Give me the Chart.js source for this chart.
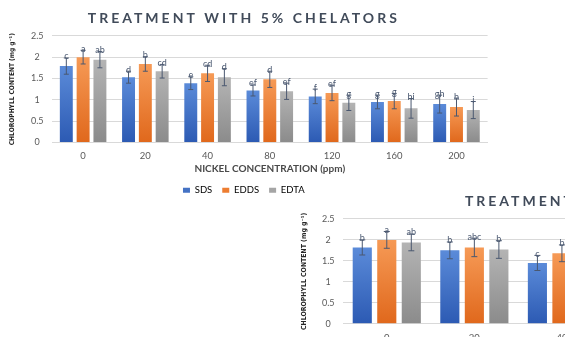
<!DOCTYPE html>
<html>
<head>
<meta charset="utf-8">
<script src="https://cdn.jsdelivr.net/npm/chart.js@4.4.1/dist/chart.umd.min.js"></script>
<style>
  html, body { margin: 0; padding: 0; background: #ffffff; width: 565px; height: 337px; overflow: hidden; position: relative; }
  #c1 { position: absolute; left: 0px; top: 0px; }
  #c2 { position: absolute; left: 285px; top: 185px; }
</style>
</head>
<body>
<canvas id="c1" width="492" height="205"></canvas>
<canvas id="c2" width="676" height="215"></canvas>
<script>
// ---------- data ----------
const categories = ['0', '20', '40', '80', '120', '160', '200'];
const seriesNames = ['SDS', 'EDDS', 'EDTA'];
const yTicks = [0, 0.5, 1, 1.5, 2, 2.5];

// Chart 1: treatment with 5% chelators
const sds5  = [1.79, 1.53, 1.39, 1.22, 1.08, 0.95, 0.90];
const edds5 = [2.00, 1.84, 1.62, 1.48, 1.16, 0.97, 0.83];
const edta5 = [1.94, 1.67, 1.53, 1.20, 0.93, 0.80, 0.76];
const sds5Err  = [0.19, 0.14, 0.15, 0.13, 0.17, 0.16, 0.21];
const edds5Err = [0.16, 0.17, 0.19, 0.19, 0.18, 0.18, 0.21];
const edta5Err = [0.19, 0.16, 0.20, 0.19, 0.18, 0.23, 0.20];
const sds5Letters  = ['c', 'd', 'e', 'ef', 'f', 'g', 'gh'];
const edds5Letters = ['a', 'b', 'cd', 'd', 'ef', 'g', 'h'];
const edta5Letters = ['ab', 'cd', 'd', 'ef', 'g', 'hi', 'i'];

// Chart 2 (partly visible, cut by the window): only visible values are given
const sds2  = [1.82, 1.75, 1.45, null, null, null, null];
const edds2 = [2.00, 1.82, 1.68, null, null, null, null];
const edta2 = [1.94, 1.77, null, null, null, null, null];
const sds2Err  = [0.18, 0.20, 0.18, null, null, null, null];
const edds2Err = [0.20, 0.22, 0.20, null, null, null, null];
const edta2Err = [0.20, 0.21, null, null, null, null, null];
const sds2Letters  = ['b', 'b', 'c', '', '', '', ''];
const edds2Letters = ['a', 'abc', 'b', '', '', '', ''];
const edta2Letters = ['ab', 'b', '', '', '', '', ''];

const title1 = 'TREATMENT WITH 5% CHELATORS';
const title2 = 'TREATMENT WITH 10% CHELATORS';
const xTitle = 'NICKEL CONCENTRATION (ppm)';
const yTitle = 'CHLOROPHYLL CONTENT (mg g\u207B\u00B9)';

// ---------- styles ----------
const solid = ['#4472C4', '#ED7D31', '#A5A5A5'];
const gradTop = ['#5B8BD9', '#F69A56', '#B4B4B4'];
const gradBot = ['#2C5AB3', '#E0681C', '#8B8B8B'];
const FONT = "Lato, 'Open Sans', sans-serif";
const NARROW = "'Liberation Sans Narrow', 'DejaVu Sans Condensed', sans-serif";

function gradFill(i) {
  return (c) => {
    const chart = c.chart;
    const ys = chart.scales && chart.scales.y;
    if (!ys || c.type !== 'data' || c.raw == null) return solid[i];
    const yT = ys.getPixelForValue(c.raw);
    const yB = ys.getPixelForValue(0);
    if (!isFinite(yT) || !isFinite(yB) || Math.abs(yB - yT) < 1) return solid[i];
    const g = chart.ctx.createLinearGradient(0, yT, 0, yB);
    g.addColorStop(0, gradTop[i]);
    g.addColorStop(1, gradBot[i]);
    return g;
  };
}

const errorBars = {
  id: 'errorBars',
  afterDatasetsDraw(chart, args, opts) {
    const ctx = chart.ctx;
    const ys = chart.scales.y;
    chart.data.datasets.forEach((ds, i) => {
      const meta = chart.getDatasetMeta(i);
      if (meta.hidden) return;
      meta.data.forEach((bar, j) => {
        const v = ds.data[j];
        const e = ds.errors[j];
        if (v == null || e == null) return;
        const yt = ys.getPixelForValue(v + e);
        const yb = ys.getPixelForValue(v - e);
        const x = bar.x;
        ctx.save();
        ctx.strokeStyle = opts.color;
        ctx.lineWidth = 1;
        ctx.beginPath();
        ctx.moveTo(x, yt); ctx.lineTo(x, yb);
        ctx.moveTo(x - opts.cap, yt); ctx.lineTo(x + opts.cap, yt);
        ctx.moveTo(x - opts.cap, yb); ctx.lineTo(x + opts.cap, yb);
        ctx.stroke();
        const t = ds.letters[j];
        if (t) {
          ctx.fillStyle = opts.color;
          ctx.font = opts.font;
          ctx.textAlign = 'center';
          ctx.textBaseline = 'middle';
          ctx.fillText(t, x, yt - opts.lift);
        }
        ctx.restore();
      });
    });
  }
};

const spacedTitle = {
  id: 'spacedTitle',
  beforeDraw(chart, args, opts) {
    const tb = chart.titleBlock;
    if (tb && !tb._spaced) {
      const orig = tb.draw;
      tb.draw = function (a) {
        const ctx = this.ctx;
        ctx.save();
        ctx.letterSpacing = opts.spacing;
        orig.call(this, a);
        ctx.restore();
      };
      tb._spaced = true;
    }
  }
};

function makeChart(id, vals, errs, lets, cfg) {
  const datasets = seriesNames.map((name, i) => ({
    label: name,
    data: vals[i],
    errors: errs[i],
    letters: lets[i],
    backgroundColor: gradFill(i),
    borderWidth: 0,
    categoryPercentage: cfg.cp,
    barPercentage: cfg.bp
  }));
  return new Chart(document.getElementById(id), {
    type: 'bar',
    data: { labels: categories, datasets },
    options: {
      responsive: false,
      maintainAspectRatio: false,
      animation: false,
      layout: { padding: { left: cfg.padLeft, right: cfg.padRight, top: 0, bottom: 0 } },
      plugins: {
        title: {
          display: true,
          text: cfg.title,
          color: '#414B5A',
          font: { family: FONT, size: 14, weight: 'bold' },
          padding: { top: cfg.titleTop, bottom: cfg.titleBottom }
        },
        spacedTitle: { spacing: '3px' },
        legend: {
          position: 'bottom',
          labels: {
            boxWidth: 7,
            boxHeight: 5,
            padding: 10,
            color: '#595959',
            font: { family: FONT, size: 9.5 },
            generateLabels: (chart) => chart.data.datasets.map((ds, i) => ({
              text: ds.label, fillStyle: solid[i], strokeStyle: solid[i],
              lineWidth: 0, hidden: false, datasetIndex: i
            }))
          }
        },
        tooltip: { enabled: false },
        errorBars: { color: '#4A5870', cap: cfg.cap, lift: 1.5, font: '9px ' + FONT }
      },
      scales: {
        x: {
          grid: { display: false, drawTicks: false },
          border: { display: true, color: '#D9D9D9' },
          ticks: { color: '#595959', font: { family: FONT, size: 9.5 }, padding: 8 },
          title: {
            display: true, text: xTitle, color: '#4A4A4A',
            font: { family: FONT, size: 10, weight: 'bold' },
            padding: { top: 0, bottom: cfg.xTitleBottom }
          },
          afterFit: (s) => { s.height = cfg.xHeight; }
        },
        y: {
          min: 0, max: 2.5,
          afterBuildTicks: (s) => { s.ticks = yTicks.map(v => ({ value: v })); },
          grid: { color: '#D9D9D9', drawTicks: false },
          border: { display: false },
          ticks: {
            color: '#595959', font: { family: FONT, size: 9 }, padding: 8.5,
            crossAlign: 'center',
            callback: (v) => String(v)
          },
          title: {
            display: true, text: yTitle, color: '#262626',
            font: { family: NARROW, size: cfg.yTitleSize, weight: 'bold' },
            padding: { top: cfg.yTitleTop, bottom: 0 }
          },
          afterFit: (s) => { s.width = cfg.yWidth; }
        }
      }
    },
    plugins: [errorBars, spacedTitle]
  });
}

const ch1 = makeChart('c1', [sds5, edds5, edta5], [sds5Err, edds5Err, edta5Err],
  [sds5Letters, edds5Letters, edta5Letters],
  { title: title1, cp: 0.81, bp: 0.77, padLeft: 0, padRight: 4.4, titleTop: 10, titleBottom: 9,
    xHeight: 33, xTitleBottom: 0.8, yWidth: 52, yTitleSize: 6.6, yTitleTop: 8, cap: 2.5 });

const ch2 = makeChart('c2', [sds2, edds2, edta2], [sds2Err, edds2Err, edta2Err],
  [sds2Letters, edds2Letters, edta2Letters],
  { title: title2, cp: 0.84, bp: 0.78, padLeft: 12, padRight: 5, titleTop: 8.4, titleBottom: 8.7,
    xHeight: 46.7, xTitleBottom: 10, yWidth: 46, yTitleSize: 6.9, yTitleTop: 3.5, cap: 3 });

ch1.draw();
ch2.draw();
</script>
</body>
</html>
